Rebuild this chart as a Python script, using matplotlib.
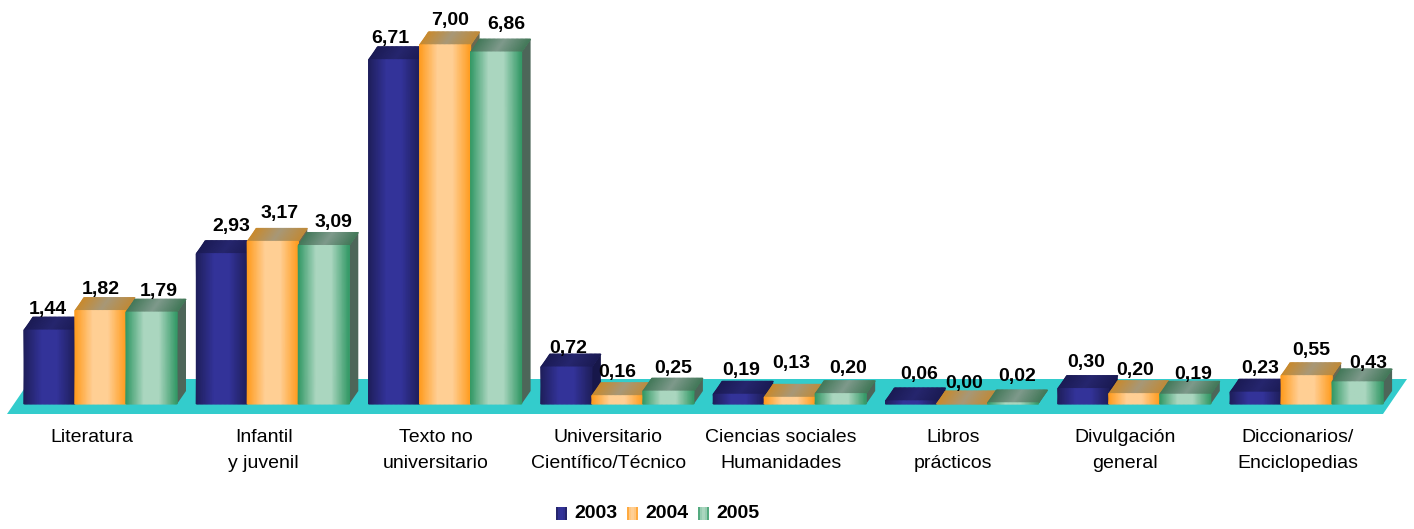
import numpy as np
import matplotlib.pyplot as plt
from matplotlib.colors import LinearSegmentedColormap
from matplotlib.patches import Polygon

plt.rcParams['font.family'] = ['Liberation Sans', 'DejaVu Sans']

# datos
categorias = ["Literatura", "Infantil\ny juvenil", "Texto no\nuniversitario",
              "Universitario\nCientífico/Técnico", "Ciencias sociales\nHumanidades",
              "Libros\nprácticos", "Divulgación\ngeneral", "Diccionarios/\nEnciclopedias"]
anios = ["2003", "2004", "2005"]
v2003 = [1.44, 2.93, 6.71, 0.72, 0.19, 0.06, 0.30, 0.23]
v2004 = [1.82, 3.17, 7.00, 0.16, 0.13, 0.00, 0.20, 0.55]
v2005 = [1.79, 3.09, 6.86, 0.25, 0.20, 0.02, 0.19, 0.43]

# posicion de las etiquetas en pixeles (colocadas a mano en el original), centro x / centro y de los digitos
etiq_x = [[48, 231, 390, 568, 741, 919, 1086, 1260],
          [101, 280, 450, 617, 791, 964, 1135, 1311],
          [159, 333, 506, 673, 848, 1017, 1193, 1368]]
etiq_y = [[308, 225, 37, 347, 369, 373, 361, 367],
          [288, 212, 19, 371, 362, 382, 369, 349],
          [290, 221, 23, 367, 367, 375, 373, 362]]

W, H = 1414, 529
paso_px = 172.3      # distancia entre grupos
esc_px = 51.3        # px por unidad
x0_px, y0_px = 100.5, 404
ancho = 51 / paso_px
dx = 9 / paso_px     # profundidad del efecto 3D
dy = 13 / esc_px


def px_x(p):
    return (p - x0_px) / paso_px


def px_y(p):
    return (y0_px - p) / esc_px


def mapa(borde, medio):
    return LinearSegmentedColormap.from_list("m", [(0, borde), (0.35, medio), (0.65, medio), (1, borde)])


frente = [mapa("#1f1f5c", "#333399"), mapa("#ff9c1e", "#ffcf94"), mapa("#339966", "#aad6bf")]
tapa = [LinearSegmentedColormap.from_list("t", c) for c in
        (["#1b1b55", "#26266e", "#1b1b55"], ["#c98a2e", "#a89878", "#c08a3a"], ["#44795a", "#7f9a8c", "#44795a"])]
lateral = ["#17174a", "#6b6850", "#4d6659"]

fig = plt.figure(figsize=(W / 100, H / 100), dpi=100)
ax = fig.add_axes([0, 0, 1, 1])
ax.axis('off')

# suelo
ax.add_patch(Polygon([(px_x(7), px_y(414)), (px_x(1383), px_y(414)),
                      (px_x(1407), px_y(379)), (px_x(31), px_y(379))],
                     facecolor="#33cccc", edgecolor="none", zorder=1))

t = np.linspace(0, 1, 41)
z = 2
for i in range(len(categorias)):
    for j, serie in enumerate((v2003, v2004, v2005)):
        v = serie[i]
        x1 = i + (j - 1.5) * ancho
        xs = x1 + t * ancho
        # lateral
        ax.add_patch(Polygon([(x1 + ancho, 0), (x1 + ancho + dx, dy), (x1 + ancho + dx, v + dy), (x1 + ancho, v)],
                             facecolor=lateral[j], edgecolor="none", zorder=z))
        # tapa
        X = np.vstack([xs, xs + dx])
        Y = np.vstack([np.full_like(xs, v), np.full_like(xs, v + dy)])
        ax.pcolormesh(X, Y, np.vstack([t, t]), cmap=tapa[j], vmin=0, vmax=1, zorder=z, shading='gouraud')
        # frente
        if v > 0:
            ax.pcolormesh(xs, [0, v], np.vstack([t, t]), cmap=frente[j], vmin=0, vmax=1, zorder=z + 0.5, shading='gouraud')
        z += 1

for i in range(len(categorias)):
    for j, serie in enumerate((v2003, v2004, v2005)):
        ax.text(px_x(etiq_x[j][i]), px_y(etiq_y[j][i] + 6), f"{serie[i]:.2f}".replace(".", ","), ha='center', va='baseline',
                fontsize=14, fontweight='bold', color="black", zorder=100)
    ax.text(i - 9 / paso_px, px_y(429), categorias[i], ha='center', va='top', fontsize=14, color="black",
            linespacing=1.72, zorder=100)

# leyenda
t5 = np.linspace(0, 1, 6)
for j, anio in enumerate(anios):
    xl = 556 + 71 * j
    xs = px_x(xl) + t5 * 11 / paso_px
    ax.pcolormesh(xs, [px_y(520), px_y(507)], ((t5[:-1] + t5[1:]) / 2)[None, :], cmap=frente[j], vmin=0, vmax=1, zorder=100)
    ax.text(px_x(xl + 18), px_y(513.5), anio, ha='left', va='center', fontsize=14, fontweight='bold', color="black")

ax.set_xlim(px_x(0), px_x(W))
ax.set_ylim(px_y(H), px_y(0))
fig.savefig("out.png", dpi=100)
